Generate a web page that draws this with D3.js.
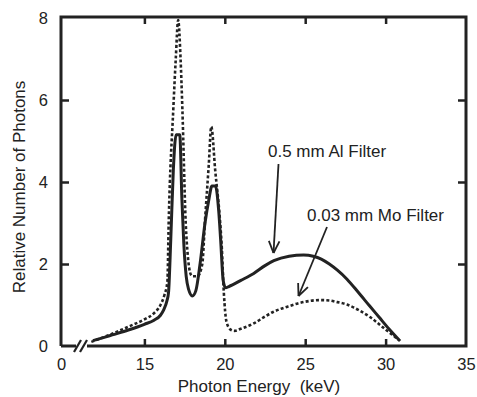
<!DOCTYPE html>
<html>
<head>
<meta charset="utf-8">
<script src="https://cdn.jsdelivr.net/npm/d3@7"></script>
<style>
  body { margin: 0; background: #fff; }
  text { font-family: "Liberation Sans", Arial, Helvetica, sans-serif; fill: #222; }
</style>
</head>
<body>
<script>
// Spectrum with 0.5 mm Al filter (solid line)
const alEnergy = [11.8, 12.5, 13.0, 14.0, 15.0, 15.6, 16.0, 16.2, 16.4, 16.5, 16.64, 16.8, 16.97, 17.2, 17.33, 17.45, 17.6, 17.75, 17.98, 18.2, 18.46, 18.77, 19.0, 19.2, 19.42, 19.62, 19.74, 19.9, 20.05, 20.25, 21.0, 21.8, 22.5, 23.05, 24.0, 24.9, 25.5, 26.0, 26.5, 27.0, 27.6, 28.3, 29.0, 29.6, 30.2, 30.9];
const alPhotons = [0.13, 0.21, 0.27, 0.39, 0.53, 0.63, 0.75, 0.88, 1.1, 1.3, 2.6, 4.3, 5.15, 5.15, 3.6, 2.5, 1.7, 1.38, 1.22, 1.35, 2.0, 3.0, 3.55, 3.9, 3.9, 3.3, 2.6, 1.6, 1.42, 1.45, 1.6, 1.77, 1.96, 2.08, 2.19, 2.22, 2.19, 2.12, 2.0, 1.85, 1.63, 1.31, 0.98, 0.7, 0.42, 0.12];

// Spectrum with 0.03 mm Mo filter (dotted line)
const moEnergy = [11.7, 12.5, 13.0, 14.0, 15.0, 15.6, 16.0, 16.25, 16.43, 16.51, 16.8, 16.95, 17.1, 17.25, 17.36, 17.57, 17.7, 17.88, 18.0, 18.3, 18.6, 18.77, 19.0, 19.16, 19.4, 19.7, 19.8, 19.94, 20.1, 20.36, 20.6, 21.0, 21.8, 22.5, 23.0, 23.9, 25.0, 25.9, 26.5, 27.0, 27.6, 28.3, 29.05, 29.6, 30.0, 30.5, 30.8];
const moPhotons = [0.1, 0.22, 0.3, 0.47, 0.65, 0.8, 1.0, 1.25, 1.57, 3.0, 5.8, 7.0, 7.95, 7.0, 5.8, 3.0, 2.2, 1.75, 1.7, 1.7, 2.0, 3.07, 4.4, 5.35, 4.3, 3.07, 2.5, 1.3, 0.6, 0.4, 0.37, 0.42, 0.55, 0.72, 0.83, 0.96, 1.08, 1.12, 1.11, 1.07, 1.01, 0.88, 0.7, 0.53, 0.4, 0.25, 0.15];

// axis ticks (the "0" sits at the axis break)
const xTickValues = [10, 15, 20, 25, 30, 35];
const xTickLabels = ['0', '15', '20', '25', '30', '35'];
const yTickValues = [0, 2, 4, 6, 8];

let width = 477,
  height = 397;
let plotLeft = 61, plotRight = 466, plotTop = 17, plotBottom = 346;
let ink = '#222';

let x = d3.scaleLinear().domain([10, 35]).range([64, plotRight]);
let y = d3.scaleLinear().domain([0, 8]).range([plotBottom, 18]);

let svg = d3
  .select('body')
  .append('svg')
  .attr('width', width)
  .attr('height', height);

// frame, bottom side broken near the origin
let frame = svg.append('g').attr('stroke', ink).attr('stroke-width', 3).attr('fill', 'none');
frame.append('path').attr('d', `M${plotLeft},${plotBottom} L${plotLeft},${plotTop} L${plotRight},${plotTop} L${plotRight},${plotBottom} L87,${plotBottom}`);
frame.append('line').attr('x1', plotLeft).attr('x2', 76).attr('y1', plotBottom).attr('y2', plotBottom);
frame.append('line').attr('x1', 74).attr('y1', plotBottom + 6).attr('x2', 81).attr('y2', plotBottom - 6).attr('stroke-width', 2.2);
frame.append('line').attr('x1', 80).attr('y1', plotBottom + 6).attr('x2', 87).attr('y2', plotBottom - 6).attr('stroke-width', 2.2);

// x axis: labels at bottom, inward ticks top and bottom
let xAxis = svg.append('g')
  .attr('transform', `translate(0,${plotBottom})`)
  .call(d3.axisBottom(x).tickValues(xTickValues).tickSize(-7).tickPadding(12)
    .tickFormat((d, i) => xTickLabels[i]));
xAxis.select('.domain').remove();
xAxis.selectAll('.tick line').attr('stroke', ink).attr('stroke-width', 2.5)
  .attr('display', d => (d === 10 || d === 35 ? 'none' : null));
xAxis.selectAll('.tick text').attr('font-size', 16.5).attr('fill', ink)
  .attr('x', d => (d === 10 ? plotLeft - 64 : 0));

let xTop = svg.append('g')
  .attr('transform', `translate(0,${plotTop})`)
  .call(d3.axisTop(x).tickValues([15, 20, 25, 30]).tickSize(-7).tickFormat(''));
xTop.select('.domain').remove();
xTop.selectAll('.tick line').attr('stroke', ink).attr('stroke-width', 2.5);

// y axis
let yAxis = svg.append('g')
  .attr('transform', `translate(${plotLeft},0)`)
  .call(d3.axisLeft(y).tickValues(yTickValues).tickSize(-8).tickPadding(13));
yAxis.select('.domain').remove();
yAxis.selectAll('.tick line').attr('stroke', ink).attr('stroke-width', 2.5)
  .attr('display', d => (d === 0 || d === 8 ? 'none' : null));
yAxis.selectAll('.tick text').attr('font-size', 16.5).attr('fill', ink);

let yRight = svg.append('g')
  .attr('transform', `translate(${plotRight},0)`)
  .call(d3.axisRight(y).tickValues([2, 4, 6]).tickSize(-8).tickFormat(''));
yRight.select('.domain').remove();
yRight.selectAll('.tick line').attr('stroke', ink).attr('stroke-width', 2.5);

// axis titles
svg.append('text')
  .attr('x', 259).attr('y', 392)
  .attr('text-anchor', 'middle').attr('font-size', 17)
  .attr('xml:space', 'preserve')
  .text('Photon Energy  (keV)');

svg.append('text')
  .attr('transform', `translate(25,187) rotate(-90)`)
  .attr('text-anchor', 'middle').attr('font-size', 17)
  .text('Relative Number of Photons');

// curves
let line = d3.line()
  .x(d => x(d[0]))
  .y(d => y(d[1]))
  .curve(d3.curveMonotoneX);

svg.append('path')
  .datum(alEnergy.map((e, i) => [e, alPhotons[i]]))
  .attr('d', line)
  .attr('fill', 'none').attr('stroke', ink).attr('stroke-width', 3);

svg.append('path')
  .datum(moEnergy.map((e, i) => [e, moPhotons[i]]))
  .attr('d', line)
  .attr('fill', 'none').attr('stroke', ink).attr('stroke-width', 2.6)
  .attr('stroke-dasharray', '3,2.2');

// annotations with open arrowheads
function arrow(x1, y1, x2, y2) {
  let g = svg.append('g').attr('stroke', ink).attr('stroke-width', 1.8).attr('fill', 'none');
  g.append('line').attr('x1', x1).attr('y1', y1).attr('x2', x2).attr('y2', y2);
  let a = Math.atan2(y2 - y1, x2 - x1);
  let len = 13, spread = 0.42;
  [a + Math.PI - spread, a + Math.PI + spread].forEach(t => {
    g.append('line')
      .attr('x1', x2).attr('y1', y2)
      .attr('x2', x2 + len * Math.cos(t)).attr('y2', y2 + len * Math.sin(t));
  });
}

svg.append('text').attr('x', 268).attr('y', 157).attr('font-size', 17).text('0.5 mm Al Filter');
arrow(278.5, 164, 273.5, 253);

svg.append('text').attr('x', 307).attr('y', 221).attr('font-size', 17).text('0.03 mm Mo Filter');
arrow(327, 227, 298.5, 296);
</script>
</body>
</html>
